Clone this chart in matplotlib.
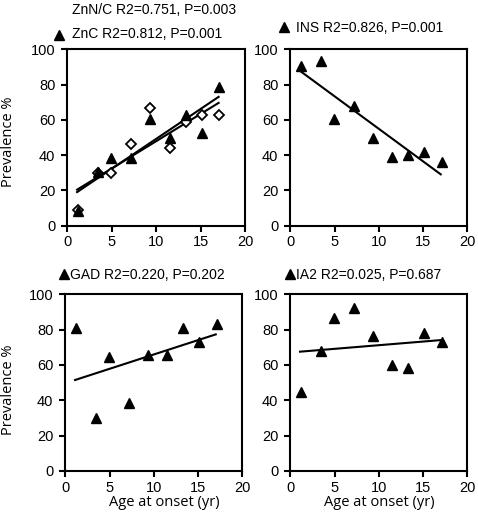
import numpy as np
import matplotlib
matplotlib.use('Agg')
import matplotlib.pyplot as plt
from matplotlib.lines import Line2D

# age at onset (yr), midpoints of age groups
age = [1.2, 3.5, 4.9, 7.2, 9.3, 11.5, 13.3, 15.1, 17.1]

# prevalence %
znc = [8.5, 30.6, 38.6, 38.4, 60.5, 49.7, 62.5, 52.4, 78.8]
znnc = [9.0, 30.0, 30.0, 46.3, 66.5, 44.2, 58.6, 62.6, 63.0]
ins = [90.7, 93.6, 60.7, 67.7, 49.7, 38.8, 40.3, 42.0, 36.3]
gad = [80.8, 30.2, 64.3, 38.3, 65.8, 65.8, 80.9, 72.8, 83.4]
ia2 = [44.9, 67.9, 86.4, 92.5, 76.6, 60.2, 58.3, 78.3, 72.8]

xticks = [0, 5, 10, 15, 20]
yticks = [0, 20, 40, 60, 80, 100]

W, H = 478, 516
plt.rcParams['font.family'] = ['Liberation Sans', 'DejaVu Sans']

fig = plt.figure(figsize=(W / 100, H / 100), dpi=100)


def px_axes(left, top, right, bottom):
    return fig.add_axes([left / W, 1 - bottom / H, (right - left) / W, (bottom - top) / H])


def fit_line(ax, x, y):
    # least squares line over the range of the data
    m, b = np.polyfit(x, y, 1)
    xs = np.array([x[0] - 0.1, x[-1] - 0.1])
    ax.plot(xs, m * xs + b, color='black', lw=1.5, zorder=2)


def style(ax):
    ax.set_xlim(0, 20)
    ax.set_ylim(0, 100)
    ax.set_xticks(xticks)
    ax.set_yticks(yticks)
    for s in ax.spines.values():
        s.set_linewidth(1.5)
    ax.tick_params(direction='out', length=4.5, width=1.5, labelsize=10.5)
    ax.tick_params(axis='x', pad=2.5)
    ax.tick_params(axis='y', pad=4)


tri = dict(marker='^', ms=7, color='black', ls='none', zorder=4)

ax1 = px_axes(67.3, 49.3, 245.3, 225.7)
ax2 = px_axes(290.3, 49.3, 467.3, 225.7)
ax3 = px_axes(65.3, 294.3, 242.3, 471)
ax4 = px_axes(290.3, 294.3, 467.3, 471)

# top left: ZnN/C (open diamonds) and ZnC (triangles)
ax1.plot(age, znnc, marker='D', ms=5.5, mfc='white', mec='black', mew=1.3, ls='none', zorder=3)
ax1.plot(age, znc, **tri)
fit_line(ax1, age, znc)
fit_line(ax1, age, znnc)

ax2.plot(age, ins, **tri)
fit_line(ax2, age, ins)

ax3.plot(age, gad, **tri)
fit_line(ax3, age, gad)

ax4.plot(age, ia2, **tri)
fit_line(ax4, age, ia2)

for ax in (ax1, ax2, ax3, ax4):
    style(ax)


# legend-like headings
def head(tx, ty, text, mx=None, my=None):
    fig.text(tx / W, 1 - ty / H, text, fontsize=10, va='baseline', ha='left')
    if mx is not None:
        fig.add_artist(Line2D([mx / W], [1 - my / H], marker='^', ms=7, color='black',
                              transform=fig.transFigure))


head(72, 14, 'ZnN/C R2=0.751, P=0.003')
head(72, 38.5, 'ZnC R2=0.812, P=0.001', 58.8, 34.5)
head(296, 31.5, 'INS R2=0.826, P=0.001', 284, 26.5)
head(69.5, 279.3, 'GAD R2=0.220, P=0.202', 64, 273.5)
head(295.5, 279.3, 'IA2 R2=0.025, P=0.687', 290, 273.5)

# axis labels
lab = dict(fontsize=10.5, family=['Open Sans', 'DejaVu Sans'])
fig.text(9 / W, 1 - 141.5 / H, 'Prevalence %', rotation=90, ha='center', va='center', **lab)
fig.text(9 / W, 1 - 390 / H, 'Prevalence %', rotation=90, ha='center', va='center', **lab)
fig.text(164 / W, 1 - 506 / H, 'Age at onset (yr)', ha='center', va='baseline', **lab)
fig.text(379 / W, 1 - 506 / H, 'Age at onset (yr)', ha='center', va='baseline', **lab)

fig.savefig('out.png', dpi=100)
